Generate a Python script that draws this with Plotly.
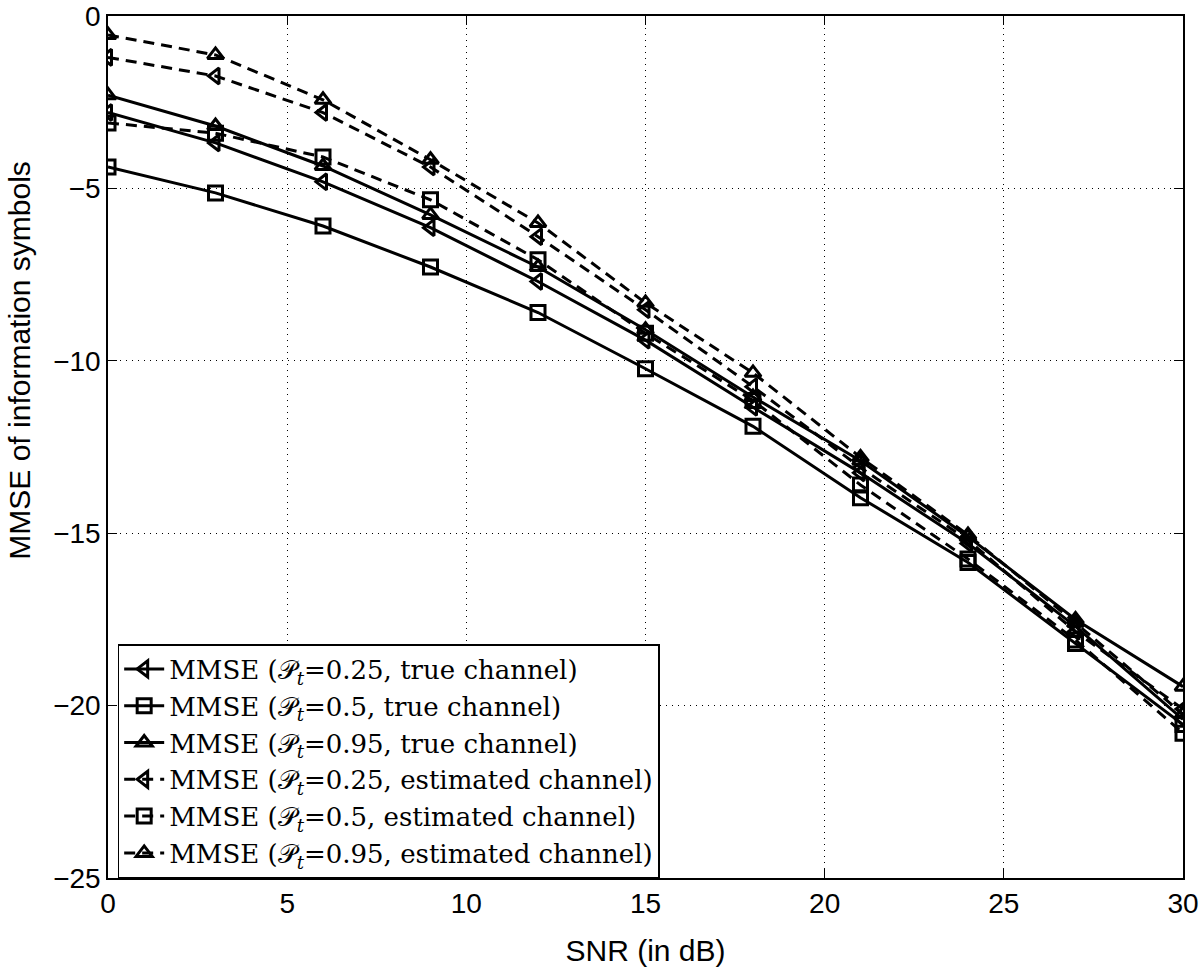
import plotly.graph_objects as go

snr = [0, 3, 6, 9, 12, 15, 18, 21, 24, 27, 30]
true_025 = [-2.8, -3.68, -4.81, -6.14, -7.7, -9.4, -11.35, -13.25, -15.3, -17.7, -20.4]
true_05 = [-4.38, -5.13, -6.09, -7.28, -8.6, -10.23, -11.9, -13.97, -15.85, -18.2, -20.55]
true_095 = [-2.3, -3.19, -4.35, -5.77, -7.28, -9.1, -11.05, -12.9, -15.1, -17.5, -19.45]
est_025 = [-1.2, -1.74, -2.8, -4.38, -6.4, -8.52, -10.75, -13.1, -15.2, -17.85, -20.1]
est_05 = [-3.1, -3.4, -4.09, -5.33, -7.07, -9.2, -11.15, -13.6, -15.75, -18.1, -20.8]
est_095 = [-0.55, -1.13, -2.43, -4.17, -6.0, -8.32, -10.35, -12.8, -15.05, -17.6, -20.25]

x_ticks = [0, 5, 10, 15, 20, 25, 30]
y_ticks = [0, -5, -10, -15, -20, -25]
y_ticktext = ["0", "\u22125", "\u221210", "\u221215", "\u221220", "\u221225"]

P = "\U0001D4AB<sub><i>t</i></sub>"
series = [
    (f"MMSE ({P}=0.25, true channel)", true_025, "solid", "triangle-left-open"),
    (f"MMSE ({P}=0.5, true channel)", true_05, "solid", "square-open"),
    (f"MMSE ({P}=0.95, true channel)", true_095, "solid", "triangle-up-open"),
    (f"MMSE ({P}=0.25, estimated channel)", est_025, "11px,7px", "triangle-left-open"),
    (f"MMSE ({P}=0.5, estimated channel)", est_05, "11px,7px", "square-open"),
    (f"MMSE ({P}=0.95, estimated channel)", est_095, "11px,7px", "triangle-up-open"),
]

fig = go.Figure()
for name, ys, dash, sym in series:
    fig.add_trace(go.Scatter(
        x=snr, y=ys, name=name, mode="lines+markers",
        line=dict(color="black", width=3, dash=dash),
        marker=dict(symbol=sym, size=14, color="black", line=dict(color="black", width=3)),
    ))

axis_common = dict(
    showline=True, linecolor="black", linewidth=1.5, mirror="allticks",
    ticks="inside", ticklen=9, tickcolor="black", tickwidth=1,
    showgrid=True, gridcolor="black", gridwidth=1, griddash="1px,5px",
    zeroline=False, automargin=False,
    tickfont=dict(family="Liberation Sans, Arial", size=28, color="black"),
    title_font=dict(family="Liberation Sans, Arial", size=30, color="black"),
)

fig.update_layout(
    width=1200, height=976,
    margin=dict(l=108, r=17, t=16, b=98),
    paper_bgcolor="white", plot_bgcolor="white",
    showlegend=True,
    legend=dict(
        x=0.009, y=0.0, xanchor="left", yanchor="bottom",
        bgcolor="white", bordercolor="black", borderwidth=1.5,
        font=dict(family="DejaVu Serif, Liberation Serif, serif", size=26, color="black"),
        tracegroupgap=0, itemwidth=40,
    ),
    annotations=[dict(
        text="MMSE of information symbols", textangle=-90,
        xref="paper", yref="paper", x=-0.082, y=0.6, xanchor="center", yanchor="middle",
        showarrow=False, font=dict(family="Liberation Sans, Arial", size=30, color="black"),
    )],
)
fig.update_xaxes(range=[0, 30], tickvals=x_ticks, title_text="SNR (in dB)", title_standoff=22, **axis_common)
fig.update_yaxes(range=[-25, 0], tickvals=y_ticks, ticktext=y_ticktext, **axis_common)

fig.write_html("out.html", config={"displayModeBar": False},
               post_script="document.body.style.margin='0';document.body.style.overflow='hidden';")
